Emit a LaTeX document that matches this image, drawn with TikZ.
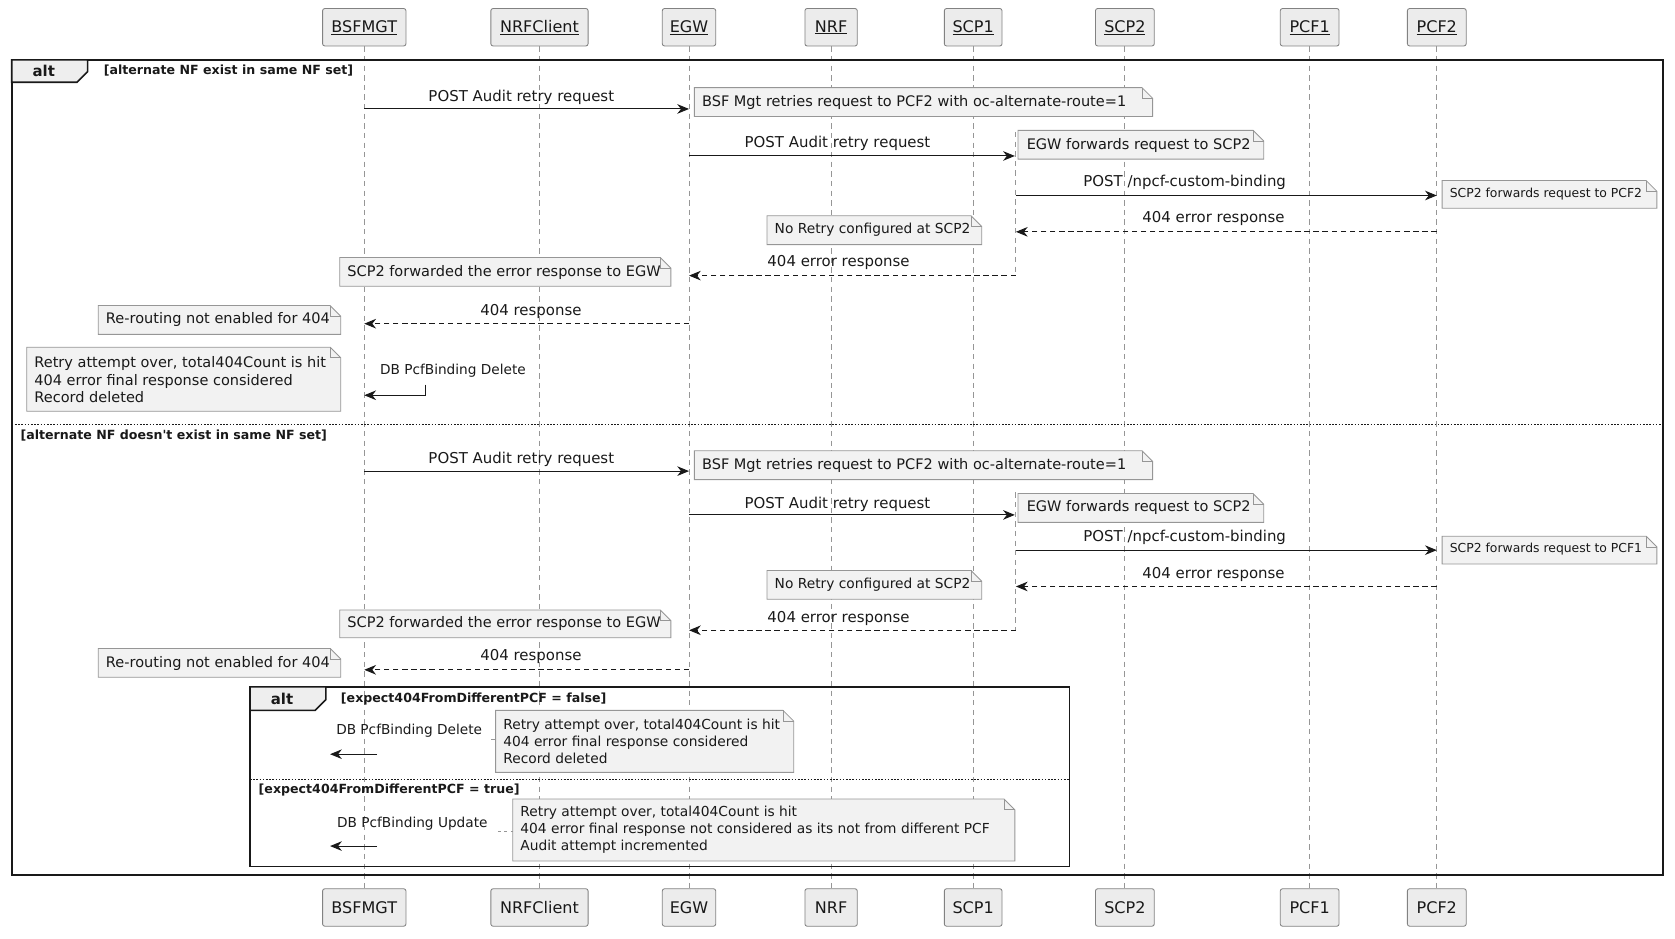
\documentclass[tikz,border=0pt]{standalone}
\usepackage{fontspec}
\setmainfont{DejaVu Sans}
\usetikzlibrary{arrows.meta}
\definecolor{notefill}{RGB}{242,242,242}
\definecolor{noteline}{RGB}{150,150,150}
\definecolor{lifec}{RGB}{150,150,150}
\definecolor{partfill}{RGB}{236,236,236}
\definecolor{partline}{RGB}{130,130,130}
\definecolor{txt}{RGB}{25,25,25}
\definecolor{tabfill}{RGB}{238,238,238}
\tikzset{
 part/.style={draw=partline, fill=partfill, rounded corners=2pt, minimum height=35pt, inner sep=0pt, font=\fontsize{15}{18}\selectfont, text=txt, line width=0.8pt},
 life/.style={draw=lifec, dash pattern=on 5pt off 4pt, line width=0.8pt},
 msg/.style={draw=txt, line width=0.9pt, -{Stealth[length=11pt,width=9pt,inset=3.5pt]}},
 rmsg/.style={msg, dash pattern=on 5pt off 3.5pt},
 mlab/.style={font=\fontsize{14}{16}\selectfont, text=txt, inner sep=0pt},
 slab/.style={font=\fontsize{12.8}{15}\selectfont, text=txt, inner sep=0pt},
 ntext/.style={font=\fontsize{13.6}{16.3}\selectfont, text=txt, inner sep=0pt, anchor=west, align=left},
 nitext/.style={ntext, font=\fontsize{12.9}{16}\selectfont},
 nstext/.style={ntext, font=\fontsize{11.6}{14}\selectfont},
 guard/.style={font=\bfseries\fontsize{11.8}{14}\selectfont, text=txt, inner sep=0pt, anchor=west},
 alttext/.style={font=\bfseries\fontsize{14}{16}\selectfont, text=txt, inner sep=0pt},
 frameline/.style={draw=black!90, line width=1.5pt},
 sepline/.style={draw=black!90, line width=0.9pt, dash pattern=on 1.5pt off 1.5pt},
 notebg/.style={draw=noteline, fill=notefill, line width=0.8pt},
}
\newcommand{\mynote}[4]{%
 \draw[notebg] (#1,#2) -- ({#3-10},#2) -- (#3,{#2+10}) -- (#3,#4) -- (#1,#4) -- cycle;
 \draw[draw=noteline, line width=0.8pt] ({#3-10},#2) -- ({#3-10},{#2+10}) -- (#3,{#2+10});}
\begin{document}
\begin{tikzpicture}[x=1pt,y=-1pt]
\useasboundingbox (0,0) rectangle (1568,879);
% participants
\foreach \n/\x/\w/\t in {bsf/341/78/BSFMGT, nrfc/505/91/NRFClient, egw/645/50/EGW, nrf/778/49/NRF, scpa/911/54/SCP1, scpb/1053/55/SCP2, pcfa/1226/55/PCF1, pcfb/1345/55/PCF2}{
  \node[part, minimum width=\w] (\n T) at (\x,25.5) {\underline{\t}};
  \node[part, minimum width=\w] (\n B) at (\x,849.5) {\t};
  \draw[life] (\n T.south) -- (\n B.north);
}
% outer frame
\draw[frameline] (11,56) rectangle (1557,819);
\draw[frameline, fill=tabfill] (11,56) -- (82,56) -- (82,67) -- (72,77) -- (11,77) -- cycle;
\node[alttext] (altA) at (41,66) {alt};
\node[guard] (gA) at (97,66) {[alternate NF exist in same NF set]};
\coordinate (sepAl) at (11,397); \coordinate (sepAr) at (1557,397);
\draw[sepline] (sepAl) -- (sepAr);
\node[guard] (gB) at (19,408) {[alternate NF doesn\textquotesingle t exist in same NF set]};
% inner frame
\draw[frameline] (234,643) rectangle (1001,811);
\draw[frameline, fill=tabfill] (234,643) -- (305,643) -- (305,655) -- (295,665) -- (234,665) -- cycle;
\node[alttext] (altB) at (264,654) {alt};
\node[guard] (gC) at (319,654) {[expect404FromDifferentPCF = false]};
\coordinate (sepBl) at (234,730); \coordinate (sepBr) at (1001,730);
\draw[sepline] (sepBl) -- (sepBr);
\node[guard] (gD) at (242,740) {[expect404FromDifferentPCF = true]};

% ---------- section 1 ----------
\coordinate (xa1) at (951,123.5); \coordinate (xa2) at (951,258);
\draw[life] (xa1) -- (xa2);
\mynote{650}{82}{1079}{109}
\node[ntext] (n1) at (657,96) {BSF Mgt retries request to PCF2 with oc-alternate-route=1};
\mynote{953}{122}{1183}{149}
\node[ntext] (n2) at (961,136) {EGW forwards request to SCP2};
\mynote{1350}{169}{1551}{195}
\node[nstext] (n3) at (1357,182) {SCP2 forwards request to PCF2};
\mynote{718}{202}{919}{229}
\node[nitext] (n4) at (725,215) {No Retry configured at SCP2};
\mynote{318}{241}{628}{268}
\node[ntext] (n5) at (325,255) {SCP2 forwarded the error response to EGW};
\mynote{92}{286}{319}{313}
\node[ntext] (n6) at (99,299) {Re-routing not enabled for 404};
\mynote{25}{325}{319}{385}
\node[ntext] (n7) at (32,355.5) {Retry attempt over, total404Count is hit\\404 error final response considered\\Record deleted};

\coordinate (a1s) at (341,102); \coordinate (a1e) at (645,102);
\draw[msg] (a1s) -- (a1e);
\node[mlab] (l1) at (488,91) {POST Audit retry request};
\coordinate (a2s) at (645,146); \coordinate (a2e) at (950,146);
\draw[msg] (a2s) -- (a2e);
\node[mlab] (l2) at (784,134) {POST Audit retry request};
\coordinate (a3s) at (951,183); \coordinate (a3e) at (1345,183);
\draw[msg] (a3s) -- (a3e);
\node[mlab] (l3) at (1109,171) {POST /npcf-custom-binding};
\coordinate (a4s) at (1345,217); \coordinate (a4e) at (951,217);
\draw[rmsg] (a4s) -- (a4e);
\node[mlab] (l4) at (1136,205) {404 error response};
\coordinate (a5e) at (645,258);
\draw[rmsg] (xa2) -- (a5e);
\node[mlab] (l5) at (785,246) {404 error response};
\coordinate (a6s) at (645,303); \coordinate (a6e) at (341,303);
\draw[rmsg] (a6s) -- (a6e);
\node[mlab] (l6) at (497,292) {404 response};
\coordinate (a7s) at (398,360); \coordinate (a7m) at (398,370); \coordinate (a7e) at (341,370);
\draw[msg] (a7s) -- (a7m) -- (a7e);
\node[slab] (l7) at (424,347) {DB PcfBinding Delete};

% ---------- section 2 ----------
\coordinate (xb1) at (951,461); \coordinate (xb2) at (951,590);
\draw[life] (xb1) -- (xb2);
\mynote{650}{422}{1079}{449}
\node[ntext] (p1) at (657,436) {BSF Mgt retries request to PCF2 with oc-alternate-route=1};
\mynote{953}{462}{1183}{489}
\node[ntext] (p2) at (961,475) {EGW forwards request to SCP2};
\mynote{1350}{502}{1551}{528}
\node[nstext] (p3) at (1357,514) {SCP2 forwards request to PCF1};
\mynote{718}{534}{919}{561}
\node[nitext] (p4) at (725,547) {No Retry configured at SCP2};
\mynote{318}{571}{628}{597}
\node[ntext] (p5) at (325,584) {SCP2 forwarded the error response to EGW};
\mynote{92}{607}{319}{634}
\node[ntext] (p6) at (99,621) {Re-routing not enabled for 404};

\coordinate (b1s) at (341,441); \coordinate (b1e) at (645,441);
\draw[msg] (b1s) -- (b1e);
\node[mlab] (k1) at (488,430) {POST Audit retry request};
\coordinate (b2s) at (645,482); \coordinate (b2e) at (950,482);
\draw[msg] (b2s) -- (b2e);
\node[mlab] (k2) at (784,472) {POST Audit retry request};
\coordinate (b3s) at (951,515); \coordinate (b3e) at (1345,515);
\draw[msg] (b3s) -- (b3e);
\node[mlab] (k3) at (1109,503) {POST /npcf-custom-binding};
\coordinate (b4s) at (1345,549); \coordinate (b4e) at (951,549);
\draw[rmsg] (b4s) -- (b4e);
\node[mlab] (k4) at (1136,538) {404 error response};
\coordinate (b5e) at (645,590);
\draw[rmsg] (xb2) -- (b5e);
\node[mlab] (k5) at (785,579) {404 error response};
\coordinate (b6s) at (645,627); \coordinate (b6e) at (341,627);
\draw[rmsg] (b6s) -- (b6e);
\node[mlab] (k6) at (497,615) {404 response};

% inner alt content
\mynote{464}{665}{743}{723}
\node[nitext] (q1) at (471,694) {Retry attempt over, total404Count is hit\\404 error final response considered\\Record deleted};
\coordinate (c1s) at (353,706); \coordinate (c1e) at (309,706);
\draw[msg] (c1s) -- (c1e);
\node[slab] (j1) at (383,684) {DB PcfBinding Delete};
\coordinate (c0a) at (460,692); \coordinate (c0b) at (464,692);
\draw[draw=noteline, line width=0.8pt] (c0a) -- (c0b);

\mynote{480}{748}{950}{806}
\node[nitext] (q2) at (487,777) {Retry attempt over, total404Count is hit\\404 error final response not considered as its not from different PCF\\Audit attempt incremented};
\coordinate (c2s) at (353,792); \coordinate (c2e) at (309,792);
\draw[msg] (c2s) -- (c2e);
\node[slab] (j2) at (386,771) {DB PcfBinding Update};
\coordinate (c3a) at (466,778); \coordinate (c3b) at (480,778);
\draw[draw=noteline, line width=0.8pt, dash pattern=on 3pt off 3pt] (c3a) -- (c3b);
\end{tikzpicture}
\end{document}
